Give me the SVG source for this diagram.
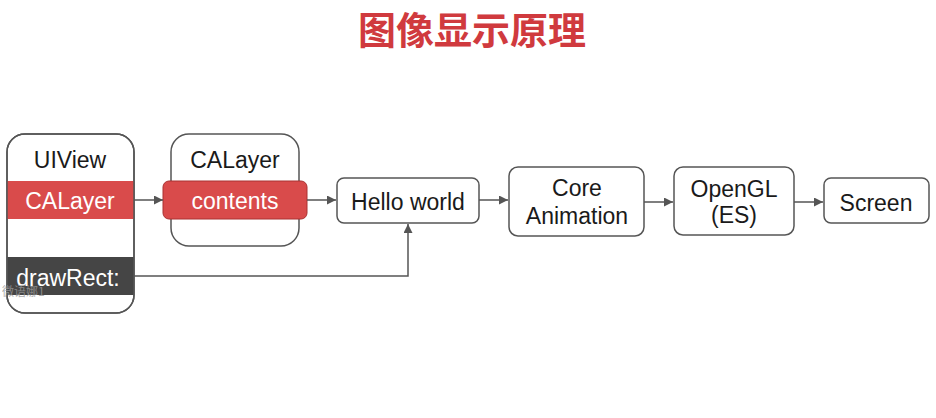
<svg xmlns="http://www.w3.org/2000/svg" width="936" height="418" viewBox="0 0 936 418">
<defs>
<marker id="ah" viewBox="0 0 10 10" refX="10" refY="5" markerWidth="9" markerHeight="9" markerUnits="userSpaceOnUse" orient="auto"><path d="M0,0 L10,5 L0,10 z" fill="#555"/></marker>
<clipPath id="uvclip"><rect x="7" y="134" width="127" height="179" rx="18"/></clipPath>
</defs>
<style>
.box{fill:#fff;stroke:#555;stroke-width:1.5}
.t{font-family:"Liberation Sans",Arial,sans-serif;font-size:23px;fill:#1a1a1a;text-anchor:middle}
.w{fill:#fff}
.c{fill:none;stroke:#555;stroke-width:1.5;marker-end:url(#ah)}
</style>
<rect width="936" height="418" fill="#fff"/>
<text x="472" y="44" font-family="'Noto Sans CJK SC',sans-serif" font-size="38" font-weight="bold" fill="#d03a3e" text-anchor="middle">图像显示原理</text>
<g id="uiview">
<rect class="box" x="7" y="134" width="127" height="179" rx="18"/>
<g clip-path="url(#uvclip)">
<rect x="7" y="181" width="127" height="38" fill="#d94b4b"/>
<rect x="7" y="257" width="127" height="38" fill="#454545"/>
</g>
<rect x="7" y="134" width="127" height="179" rx="18" fill="none" stroke="#555" stroke-width="1.5"/>
<text class="t" x="70" y="168">UIView</text>
<text class="t w" x="70" y="209">CALayer</text>
<text class="t w" x="68" y="286">drawRect:</text>
<text x="2" y="296" font-family="'Noto Sans CJK SC',serif" font-size="12" fill="#999" opacity="0.8">微语娜1</text>
</g>
<g id="calayer">
<rect class="box" x="171" y="134" width="128" height="112" rx="18"/>
<text class="t" x="235" y="168">CALayer</text>
<rect x="163" y="181" width="144" height="38" rx="6" fill="#d94b4b" stroke="#a33" stroke-width="1"/>
<text class="t w" x="235" y="209">contents</text>
</g>
<g id="hello">
<rect class="box" x="337" y="178" width="142" height="45" rx="7"/>
<text class="t" x="408" y="210">Hello world</text>
</g>
<g id="coreanim">
<rect class="box" x="509" y="167" width="135" height="69" rx="9"/>
<text class="t" x="577" y="196">Core</text>
<text class="t" x="577" y="224">Animation</text>
</g>
<g id="opengl">
<rect class="box" x="674" y="167" width="120" height="68" rx="9"/>
<text class="t" x="734" y="197">OpenGL</text>
<text class="t" x="734" y="223" font-size="19">(ES)</text>
</g>
<g id="screen">
<rect class="box" x="824" y="178" width="105" height="45" rx="7"/>
<text class="t" x="876" y="211">Screen</text>
</g>
<g id="connectors">
<path class="c" d="M134,200 H163"/>
<path class="c" d="M307,200 H336"/>
<path class="c" d="M479,200 H508"/>
<path class="c" d="M644,202 H673"/>
<path class="c" d="M794,202 H823"/>
<path class="c" d="M134,276 H408 V224"/>
</g>
</svg>
